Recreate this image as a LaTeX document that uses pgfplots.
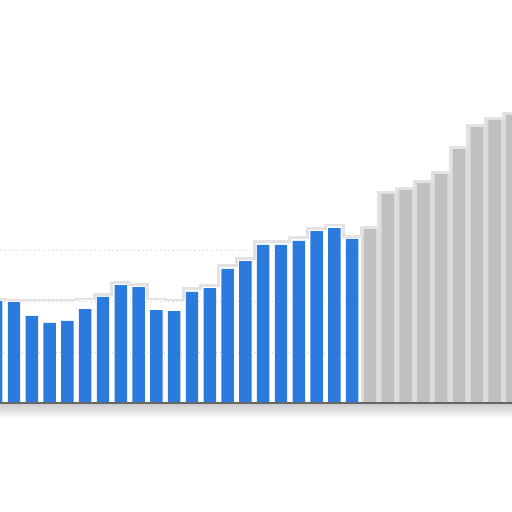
\documentclass[border=0pt]{standalone}
\usepackage{pgfplots}
\pgfplotsset{compat=1.18}
\usepackage{pgfplotstable}

\definecolor{barblue}{RGB}{43,122,222}
\definecolor{greybar}{RGB}{192,192,192}
\definecolor{greybg}{RGB}{220,220,220}

% blue bars (observed)
\pgfplotstableread{
x y
1 20.0
2 19.8
3 17.1
4 15.7
5 16.1
6 18.4
7 20.8
8 23.1
9 22.7
10 18.2
11 18.0
12 21.8
13 22.5
14 26.3
15 27.8
16 31.0
17 31.0
18 31.8
19 33.7
20 34.3
21 32.2
}\bluedata

% faded grey bars
\pgfplotstableread{
x y
22 34.1
23 41.0
24 41.8
25 43.1
26 44.9
27 49.8
28 54.1
29 55.5
30 56.5
}\greydata

% soft outline above the bar tops
\pgfplotstableread{
x env
1 20.4
2 20.2
3 20.2
4 20.2
5 20.2
6 20.4
7 21.2
8 23.7
9 23.3
10 20.4
11 20.2
12 22.4
13 23.1
14 26.9
15 28.4
16 31.6
17 31.6
18 32.4
19 34.3
20 34.9
21 32.7
22 34.4
23 41.3
24 42.1
25 43.4
26 45.2
27 50.1
28 54.4
29 55.8
30 56.8
}\envdata

\begin{document}
\begin{tikzpicture}
\begin{axis}[
  width=10cm, height=10cm, scale only axis,
  xmin=1.2135, xmax=29.978,
  ymin=-21.37, ymax=79.02,
  axis line style={draw=none},
  xtick=\empty,
  ytick={10,20,30},
  yticklabels={},
  major tick length=0pt,
  ymajorgrids,
  grid style={dotted, gray!40, line width=0.5pt},
]
  \shade[top color=gray!40, bottom color=white] (axis cs:1,-0.2) rectangle (axis cs:30.5,-3.0);
  \addplot[ybar, bar width=1, bar shift=0pt, draw=none, fill=greybg] table[x=x,y=y] {\greydata};
  \addplot[const plot mark mid, mark=none, draw=gray!22, line width=1.6pt] table[x=x,y=env] {\envdata};
  \addplot[ybar, bar width=0.70, bar shift=0pt, draw=none, fill=barblue] table[x=x,y=y] {\bluedata};
  \addplot[ybar, bar width=0.70, bar shift=0pt, draw=none, fill=greybar] table[x=x,y=y] {\greydata};
  \draw[black!60, line width=0.8pt] (axis cs:1,0) -- (axis cs:30.5,0);
\end{axis}
\pgfresetboundingbox
\useasboundingbox (current axis.south west) rectangle (current axis.north east);
\end{tikzpicture}
\end{document}
